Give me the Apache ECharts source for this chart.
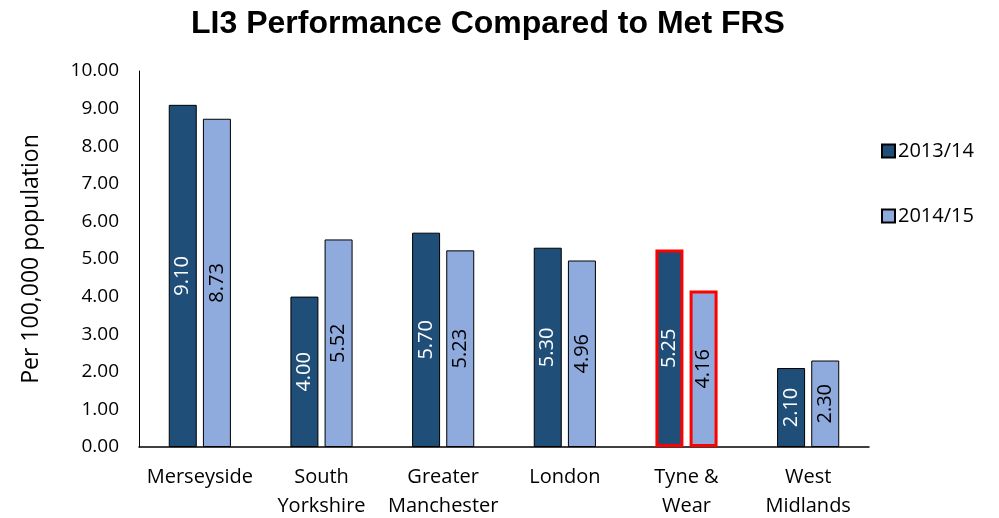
<!DOCTYPE html>
<html><head><meta charset="utf-8">
<script src="https://cdn.jsdelivr.net/npm/echarts@6/dist/echarts.min.js"></script>
<style>html,body{margin:0;padding:0;background:#fff}#c{width:999px;height:518px}</style>
</head><body><div id="c"></div>
<script>
var categories = ["Merseyside", "South\nYorkshire", "Greater\nManchester", "London", "Tyne &\nWear", "West\nMidlands"];
var series2013 = [9.10, 4.00, 5.70, 5.30, 5.25, 2.10];
var series2014 = [8.73, 5.52, 5.23, 4.96, 4.16, 2.30];
var seriesNames = ["2013/14", "2014/15"];
var highlightIndex = 4;

var font = "'Open Sans', 'Noto Sans', sans-serif";
function mk(vals) {
  return vals.map(function (v, i) {
    if (i === highlightIndex) return { value: v, itemStyle: { borderColor: '#FF0000', borderWidth: 3 } };
    return v;
  });
}
var chart = echarts.init(document.getElementById('c'));
chart.setOption({
  animation: false,
  title: { text: 'LI3 Performance Compared to Met FRS', left: 483, textAlign: 'center', top: 3,
    textStyle: { fontFamily: 'Liberation Sans, Arial, sans-serif', fontWeight: 'bold', fontSize: 32, color: '#000' } },
  legend: { orient: 'vertical', left: 876, top: 136, itemGap: 45, itemWidth: 13, itemHeight: 13,
    icon: 'rect', textStyle: { fontFamily: font, fontSize: 20, color: '#000', padding: [0, 0, 0, -2] },
    data: seriesNames },
  grid: { left: 139, right: 130, top: 71, bottom: 71, outerBoundsMode: 'none', containLabel: false },
  xAxis: { type: 'category', data: categories,
    axisLine: { lineStyle: { color: '#000', width: 1.5 } }, axisTick: { show: false },
    axisLabel: { fontFamily: font, fontSize: 20, color: '#000', lineHeight: 29, margin: 16, interval: 0 } },
  yAxis: { type: 'value', min: 0, max: 10, interval: 1,
    name: 'Per 100,000 population', nameLocation: 'middle', nameGap: 96, nameRotate: 90,
    nameTextStyle: { fontFamily: font, fontSize: 23, color: '#000' },
    axisLine: { show: true, lineStyle: { color: '#000', width: 1 } }, axisTick: { show: false },
    splitLine: { show: false },
    axisLabel: { fontFamily: font, fontSize: 19, color: '#000', margin: 20,
      formatter: function (v) { return v.toFixed(2); } } },
  series: [
    { name: seriesNames[0], type: 'bar', data: mk(series2013), barWidth: 28, barGap: '22%',
      itemStyle: { color: '#1F4E79', borderColor: '#000', borderWidth: 1 },
      label: { show: true, position: 'inside', rotate: 90, fontFamily: font, fontSize: 20, color: '#fff',
        formatter: function (p) { return p.value.toFixed(2); } } },
    { name: seriesNames[1], type: 'bar', data: mk(series2014), barWidth: 28,
      itemStyle: { color: '#8FAADC', borderColor: '#000', borderWidth: 1 },
      label: { show: true, position: 'inside', rotate: 90, fontFamily: font, fontSize: 20, color: '#000',
        formatter: function (p) { return p.value.toFixed(2); } } }
  ]
});
</script></body></html>
